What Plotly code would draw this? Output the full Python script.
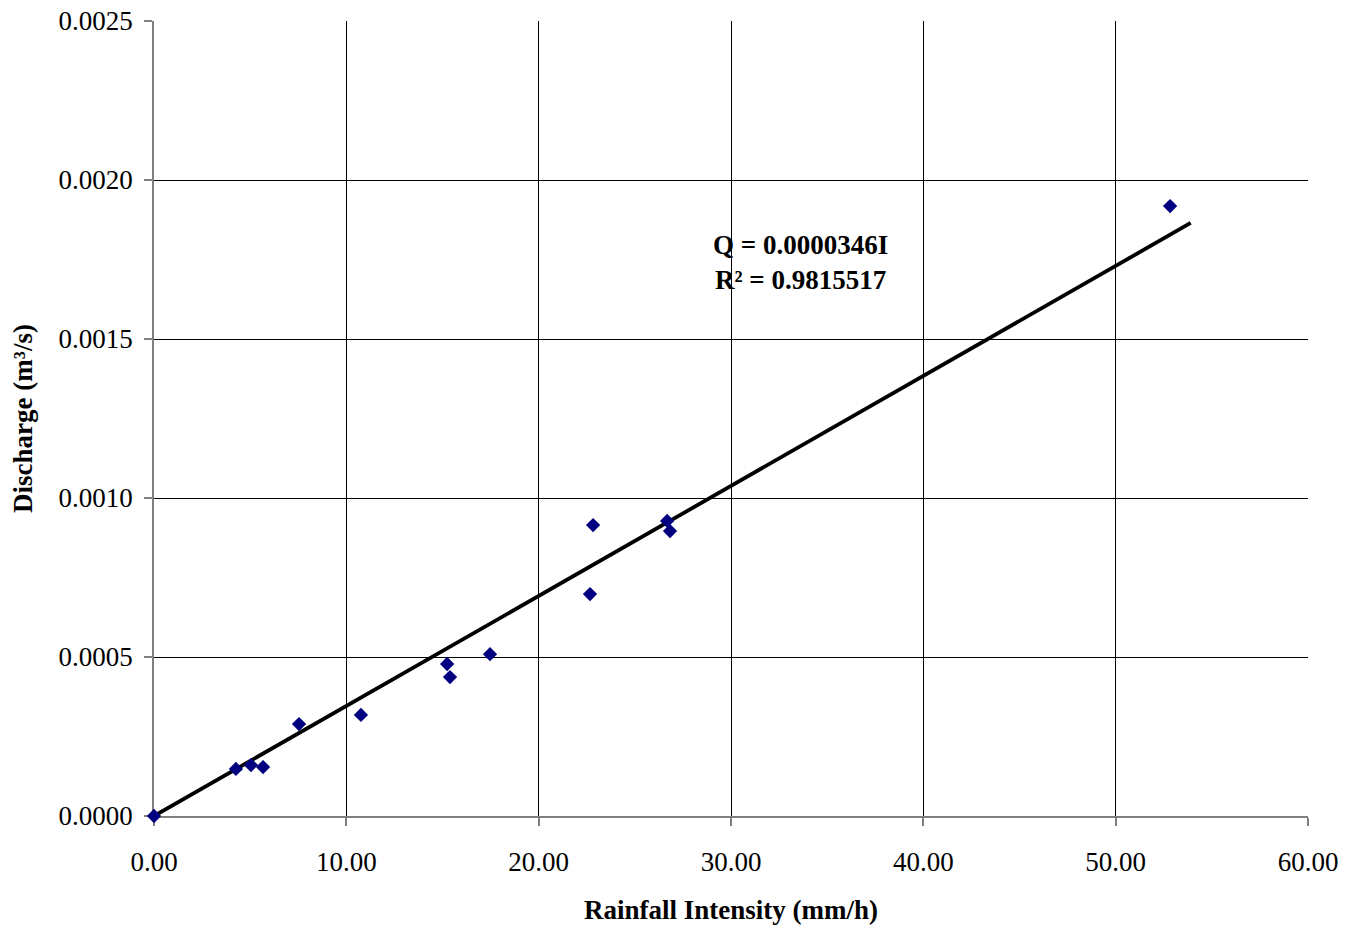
import plotly.graph_objects as go

# Measured rainfall intensity (mm/h) and discharge (m³/s)
intensity = [0.0, 4.26, 5.04, 5.67, 7.54, 10.76, 15.24, 15.39, 17.47,
             22.67, 22.83, 26.68, 26.83, 52.83]
discharge = [0.0, 0.000148, 0.000160, 0.000154, 0.000289, 0.000318, 0.000478,
             0.000437, 0.000509, 0.000698, 0.000915, 0.000928, 0.000896, 0.001918]

# Linear fit through the origin: Q = k * I
slope = 0.0000346
r_squared = 0.9815517
fit_x = [0.0, 53.9]
fit_y = [slope * v for v in fit_x]

font_family = "Liberation Serif, Times New Roman, serif"

fig = go.Figure()
fig.add_trace(go.Scatter(
    x=fit_x, y=fit_y, mode="lines",
    line=dict(color="black", width=3.8),
    showlegend=False, hoverinfo="skip",
))
fig.add_trace(go.Scatter(
    x=intensity, y=discharge, mode="markers",
    marker=dict(symbol="diamond", size=11, color="#000080"),
    cliponaxis=False,
    showlegend=False,
))

fig.add_annotation(
    x=33.6, y=0.00174, xref="x", yref="y",
    text=f"<b>Q = {slope:.7f}I</b><br><b>R² = {r_squared:.7f}</b>",
    showarrow=False, align="center",
    font=dict(family=font_family, size=27, color="black"),
)

axis_common = dict(
    showgrid=True, gridcolor="black", gridwidth=1,
    showline=True, linecolor="#808080", linewidth=1.5,
    zeroline=False, automargin=False, layer="below traces",
    ticks="outside", tickcolor="#808080", ticklen=8, tickwidth=1.5,
    tickfont=dict(family=font_family, size=27, color="black"),
)

fig.update_xaxes(
    range=[0, 60], dtick=10, tickformat=".2f",
    title=dict(text="<b>Rainfall Intensity (mm/h)</b>",
               font=dict(family=font_family, size=27, color="black"), standoff=24),
    ticklabelstandoff=13,
    **axis_common,
)
fig.update_yaxes(
    range=[0, 0.0025], dtick=0.0005, tickformat=".4f",
    title=dict(text="<b>Discharge (m³/s)</b>",
               font=dict(family=font_family, size=27, color="black"), standoff=18),
    ticklabelstandoff=6,
    **axis_common,
)

fig.update_layout(
    width=1348, height=929,
    margin=dict(l=154, r=40, t=21, b=113),
    plot_bgcolor="white", paper_bgcolor="white",
)

fig.write_html("out.html")
